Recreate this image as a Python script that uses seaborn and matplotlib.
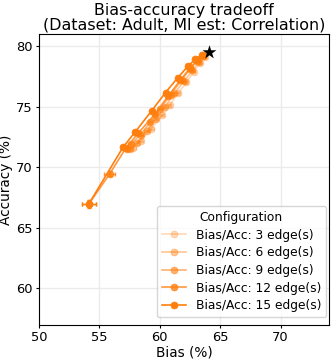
"""
Bias-accuracy tradeoff on Adult (MI estimate: correlation).
One curve per number of edges, baseline shown as a black star.
"""
import matplotlib
matplotlib.use("Agg")
import matplotlib.pyplot as plt
import seaborn as sns
import pandas as pd

edges = [3, 6, 9, 12, 15]
alphas = [0.3, 0.45, 0.6, 0.8, 1.0]

bias_3 = [63.7, 63.3, 62.8, 62.2, 61.5, 60.8, 60.2, 59.3, 58.4, 57.8]
acc_3 = [79.1, 78.6, 77.9, 77.0, 76.1, 75.1, 74.3, 73.2, 72.2, 71.6]
bias_6 = [63.65, 63.2, 62.7, 62.0, 61.2, 60.4, 59.7, 58.9, 58.1, 57.5]
acc_6 = [79.15, 78.7, 78.0, 77.1, 76.1, 75.0, 74.0, 73.0, 72.0, 71.5]
bias_9 = [63.6, 63.1, 62.5, 61.8, 60.9, 60.0, 59.2, 58.4, 57.6, 57.3]
acc_9 = [79.2, 78.8, 78.1, 77.2, 76.0, 74.8, 73.7, 72.7, 71.9, 71.5]
bias_12 = [63.6, 63.1, 62.5, 61.7, 60.7, 59.6, 58.2, 57.2, 55.85, 54.15]
acc_12 = [79.3, 78.85, 78.2, 77.2, 75.9, 74.4, 72.8, 71.6, 69.46, 67.0]
bias_15 = [63.46, 62.92, 62.31, 61.49, 60.47, 59.32, 57.97, 56.95, 54.12]
acc_15 = [79.29, 78.91, 78.33, 77.40, 76.17, 74.66, 72.93, 71.65, 66.97]

# std over seeds (only the low end is really visible)
bias_err_3 = [0.1, 0.1, 0.1, 0.1, 0.15, 0.15, 0.15, 0.2, 0.2, 0.2]
acc_err_3 = [0.05, 0.05, 0.05, 0.1, 0.1, 0.1, 0.1, 0.1, 0.15, 0.15]
bias_err_6 = [0.1, 0.1, 0.1, 0.1, 0.15, 0.15, 0.15, 0.2, 0.2, 0.2]
acc_err_6 = [0.05, 0.05, 0.05, 0.1, 0.1, 0.1, 0.1, 0.1, 0.15, 0.15]
bias_err_9 = [0.1, 0.1, 0.1, 0.1, 0.15, 0.15, 0.15, 0.2, 0.2, 0.25]
acc_err_9 = [0.05, 0.05, 0.05, 0.1, 0.1, 0.1, 0.1, 0.1, 0.15, 0.15]
bias_err_12 = [0.1, 0.1, 0.1, 0.1, 0.15, 0.15, 0.2, 0.2, 0.45, 0.6]
acc_err_12 = [0.05, 0.05, 0.05, 0.1, 0.1, 0.1, 0.1, 0.15, 0.2, 0.3]
bias_err_15 = [0.1, 0.1, 0.1, 0.1, 0.15, 0.15, 0.2, 0.2, 0.6]
acc_err_15 = [0.05, 0.05, 0.05, 0.1, 0.1, 0.1, 0.1, 0.15, 0.3]

baseline_bias = [64.1]
baseline_acc = [79.5]

series = {
    3: (bias_3, acc_3, bias_err_3, acc_err_3),
    6: (bias_6, acc_6, bias_err_6, acc_err_6),
    9: (bias_9, acc_9, bias_err_9, acc_err_9),
    12: (bias_12, acc_12, bias_err_12, acc_err_12),
    15: (bias_15, acc_15, bias_err_15, acc_err_15),
}

if __name__ == "__main__":
    fig = plt.figure(figsize=(3.32, 3.59), dpi=100)
    ax = fig.add_axes([0.1175, 0.0955, 0.8735, 0.8097])
    orange = "#ff7f0e"

    for n, a in zip(edges, alphas):
        bx, by, ex, ey = series[n]
        df = pd.DataFrame({"bias": bx, "acc": by})
        sns.lineplot(data=df, x="bias", y="acc", sort=False, ax=ax, color=orange,
                     alpha=a, marker="o", markersize=5, markeredgecolor=orange,
                     markeredgewidth=0.5, linewidth=1.2,
                     label="Bias/Acc: %d edge(s)" % n)
        ax.errorbar(bx, by, xerr=ex, yerr=ey, fmt="none", ecolor=orange, alpha=a,
                    elinewidth=1.0, capsize=1.5)

    sns.scatterplot(x=baseline_bias, y=baseline_acc, marker="*", s=110, color="black",
                    edgecolor="black", linewidth=0, ax=ax, zorder=5)

    ax.set_xlim(50, 74)
    ax.set_ylim(57, 81)
    ax.set_xticks([50, 55, 60, 65, 70])
    ax.set_yticks([60, 65, 70, 75, 80])
    ax.grid(True, color="#ebebeb", linewidth=1.0)
    ax.set_axisbelow(True)
    ax.tick_params(labelsize=9.4, length=2.2, pad=2.2)
    ax.set_xlabel("Bias (%)", fontsize=9.8, labelpad=1.2)
    ax.set_ylabel("Accuracy (%)", fontsize=9.8, labelpad=2.5)
    ax.set_title("Bias-accuracy tradeoff\n(Dataset: Adult, MI est: Correlation)",
                 fontsize=11.4, linespacing=1.0, pad=3)
    ax.legend(title="Configuration", loc="lower right", bbox_to_anchor=(0.99, 0.026),
              borderaxespad=0, fontsize=8.8, title_fontsize=8.8, labelspacing=0.38)

    fig.savefig("out.png", dpi=100)
